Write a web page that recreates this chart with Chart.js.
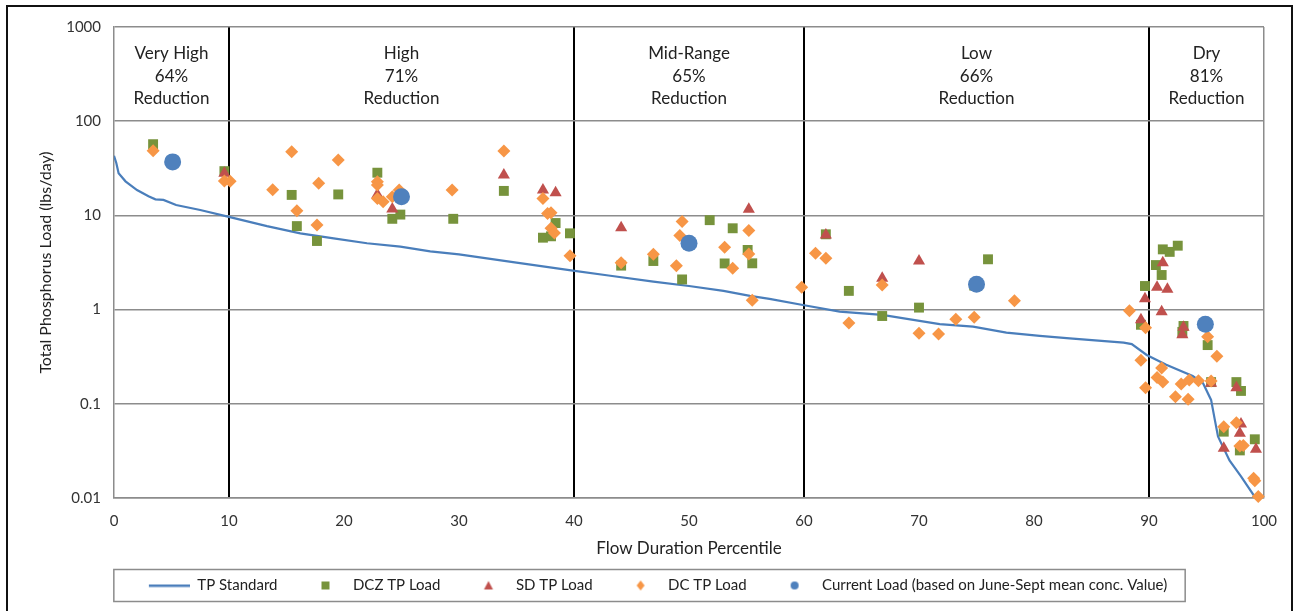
<!DOCTYPE html>
<html>
<head>
<meta charset="utf-8">
<script src="https://cdn.jsdelivr.net/npm/chart.js@4.4.1/dist/chart.umd.min.js"></script>
<style>
  html, body { margin: 0; padding: 0; background: #fff; }
  #wrap { position: relative; width: 1297px; height: 611px; overflow: hidden; }
  #frame { position: absolute; left: 6px; top: 5px; width: 1287px; height: 640px; border: 2px solid #111; box-sizing: border-box; }
  #chart { position: absolute; left: 0; top: 0; }
</style>
</head>
<body>
<div id="wrap">
  <div id="frame"></div>
  <canvas id="chart" width="1297" height="611"></canvas>
</div>
<script>
// TP standard (flow duration curve)
const tpX = [0, 0.2, 0.4, 1, 2, 3, 3.6, 4.3, 5.4, 7.5, 9.9, 13.3, 16.2, 19.1, 22, 24.9, 27.5, 30, 35, 39.9, 43, 46.9, 50, 53, 55.3, 57, 59.9, 63.1, 66.8, 71.8, 74.7, 77.6, 80.5, 83.1, 87.8, 88.5, 89.8, 91.5, 93.8, 94.7, 95.4, 95.7, 96.0, 97, 98, 99.1, 99.6];
const tpY = [43, 36, 28, 23, 18.6, 16, 14.8, 14.6, 12.9, 11.4, 9.7, 7.7, 6.45, 5.7, 5.06, 4.66, 4.15, 3.85, 3.15, 2.59, 2.3, 1.98, 1.78, 1.58, 1.4, 1.3, 1.12, 0.95, 0.88, 0.7, 0.66, 0.57, 0.525, 0.495, 0.446, 0.43, 0.33, 0.26, 0.197, 0.165, 0.11, 0.07, 0.045, 0.025, 0.017, 0.0107, 0.0098];

// DCZ TP Load
const dczX = [3.4, 9.6, 15.45, 15.9, 17.65, 19.5, 22.9, 24.2, 24.9, 29.5, 33.9, 37.3, 38.0, 38.4, 39.65, 44.1, 46.9, 49.4, 51.8, 53.1, 53.8, 55.1, 55.5, 61.9, 63.9, 66.8, 70.0, 74.8, 76.0, 89.3, 89.65, 90.6, 91.1, 91.2, 91.8, 92.5, 93.0, 92.9, 95.1, 95.4, 96.5, 97.6, 98.0, 97.9, 99.2];
const dczY = [57, 29.5, 16.5, 7.7, 5.35, 16.7, 28.4, 9.2, 10.2, 9.2, 18.2, 5.8, 6.0, 8.3, 6.45, 2.93, 3.28, 2.09, 8.9, 3.09, 7.3, 4.3, 3.1, 6.3, 1.58, 0.855, 1.05, 1.8, 3.42, 0.69, 1.78, 2.97, 2.33, 4.36, 4.1, 4.77, 0.67, 0.58, 0.42, 0.17, 0.0506, 0.17, 0.137, 0.032, 0.042];

// SD TP Load
const sdX = [9.6, 22.9, 24.2, 33.9, 37.3, 38.4, 44.1, 55.2, 61.9, 66.8, 70.0, 89.3, 89.65, 90.7, 91.1, 91.2, 91.6, 93.0, 92.9, 95.4, 97.6, 98.0, 97.9, 96.5, 99.3];
const sdY = [28, 16.7, 11.7, 26.8, 18.6, 17.4, 7.4, 11.6, 6.2, 2.15, 3.28, 0.78, 1.30, 1.73, 0.95, 3.15, 1.64, 0.65, 0.54, 0.165, 0.148, 0.061, 0.0487, 0.0337, 0.033];

// DC TP Load
const dcX = [3.4, 9.6, 10.1, 13.8, 15.45, 15.9, 17.8, 17.65, 19.5, 22.9, 22.9, 22.9, 23.4, 24.2, 24.8, 29.4, 33.9, 37.3, 37.7, 38.0, 38.0, 38.3, 39.65, 44.1, 46.9, 48.9, 49.4, 49.2, 53.1, 53.8, 55.2, 55.2, 55.5, 59.8, 61.0, 61.9, 63.9, 66.8, 70.0, 71.7, 73.2, 74.8, 78.3, 88.3, 89.7, 89.3, 89.7, 90.7, 91.1, 91.2, 92.3, 92.8, 93.4, 93.5, 94.3, 95.1, 95.4, 95.9, 96.5, 97.6, 97.9, 98.2, 99.1, 99.2, 99.5];
const dcY = [48.6, 23.2, 23, 18.7, 47.5, 11.2, 21.9, 7.9, 38.7, 22.8, 21, 15.1, 14, 15.8, 18.6, 18.6, 48.3, 15.1, 10.5, 10.7, 7.3, 6.5, 3.73, 3.15, 3.87, 2.92, 8.6, 6.1, 4.58, 2.74, 6.9, 3.9, 1.26, 1.73, 3.96, 3.5, 0.72, 1.82, 0.56, 0.55, 0.79, 0.83, 1.24, 0.97, 0.64, 0.29, 0.148, 0.19, 0.24, 0.17, 0.119, 0.162, 0.112, 0.179, 0.176, 0.515, 0.175, 0.32, 0.057, 0.063, 0.0356, 0.036, 0.0162, 0.0152, 0.0104];

// Current load (June-Sept mean conc.)
const curX = [5.1, 25.0, 50.0, 75.0, 94.9];
const curY = [37, 15.8, 5.06, 1.86, 0.70];

// flow zones
const zoneEdges = [0, 10, 40, 60, 90, 100];
const zoneNames = ["Very High", "High", "Mid-Range", "Low", "Dry"];
const zoneReductions = ["64%", "71%", "65%", "66%", "81%"];

const xTicks = [0, 10, 20, 30, 40, 50, 60, 70, 80, 90, 100];
const yTicks = [0.01, 0.1, 1, 10, 100, 1000];

const FONT = "Lato, 'Liberation Sans', sans-serif";
const gridGray = "#8c8c8c";
const colors = { tp: "#4A7EBB", dcz: "#77933C", sd: "#C0504D", dc: "#F79646", cur: "#4F81BD" };

function pts(xs, ys) {
  return xs.map((x, i) => ({ x: x, y: ys[i] }));
}

// legend markers: wide icons so the marker sits apart from the previous text, like Excel
function legendIcon(draw) {
  const c = document.createElement("canvas");
  c.width = 60;
  c.height = 16;
  draw(c.getContext("2d"));
  return c;
}
const legendIcons = [
  legendIcon((g) => { g.fillStyle = colors.tp; g.fillRect(19, 7, 41, 2.5); }),
  legendIcon((g) => { g.fillStyle = colors.dcz; g.fillRect(36, 4, 8, 8); }),
  legendIcon((g) => { g.fillStyle = colors.sd; g.beginPath(); g.moveTo(40, 3.5); g.lineTo(44.5, 12); g.lineTo(35.5, 12); g.closePath(); g.fill(); }),
  legendIcon((g) => { g.fillStyle = colors.dc; g.beginPath(); g.moveTo(40, 3); g.lineTo(44, 8); g.lineTo(40, 13); g.lineTo(36, 8); g.closePath(); g.fill(); }),
  legendIcon((g) => { g.fillStyle = colors.cur; g.beginPath(); g.arc(40, 8, 4, 0, Math.PI * 2); g.fill(); }),
];

const innerEdges = zoneEdges.slice(1, -1);

const zoneLabels = {
  id: "zoneLabels",
  afterDatasetsDraw(chart) {
    const { ctx, scales } = chart;
    const yc = scales.y.getPixelForValue(Math.sqrt(1000 * 100)) + 2;
    ctx.save();
    ctx.font = "17px " + FONT;
    ctx.fillStyle = "#222";
    ctx.textAlign = "center";
    ctx.textBaseline = "middle";
    zoneNames.forEach((name, i) => {
      const xc = scales.x.getPixelForValue((zoneEdges[i] + zoneEdges[i + 1]) / 2);
      ctx.fillText(name, xc, yc - 22.5);
      ctx.fillText(zoneReductions[i], xc, yc);
      ctx.fillText("Reduction", xc, yc + 22.5);
    });
    ctx.restore();
  },
};

const legendBox = {
  id: "legendBox",
  afterDraw(chart) {
    const hb = chart.legend.legendHitBoxes;
    if (!hb || !hb.length) return;
    const left = Math.min(...hb.map((h) => h.left)) + 19 - 35;
    const right = Math.max(...hb.map((h) => h.left + h.width)) + 18;
    const cy = hb[0].top + hb[0].height / 2;
    const ctx = chart.ctx;
    ctx.save();
    ctx.strokeStyle = gridGray;
    ctx.lineWidth = 1.5;
    ctx.strokeRect(left, cy - 16, right - left, 32);
    ctx.restore();
  },
};

new Chart(document.getElementById("chart"), {
  type: "scatter",
  data: {
    datasets: [
      {
        type: "line",
        label: "TP Standard",
        data: pts(tpX, tpY),
        borderColor: colors.tp,
        backgroundColor: colors.tp,
        borderWidth: 2.2,
        pointRadius: 0,
        tension: 0,
        order: 5,
      },
      {
        label: "DCZ TP Load",
        data: pts(dczX, dczY),
        pointStyle: "rect",
        pointRadius: 7,
        backgroundColor: colors.dcz,
        borderWidth: 0,
        clip: false,
        order: 4,
      },
      {
        label: "SD TP Load",
        data: pts(sdX, sdY),
        pointStyle: "triangle",
        pointRadius: 7,
        backgroundColor: colors.sd,
        borderWidth: 0,
        clip: false,
        order: 3,
      },
      {
        label: "DC TP Load",
        data: pts(dcX, dcY),
        pointStyle: "rectRot",
        pointRadius: 6.5,
        backgroundColor: colors.dc,
        borderWidth: 0,
        clip: false,
        order: 2,
      },
      {
        label: "Current Load (based on June-Sept mean conc. Value)",
        data: pts(curX, curY),
        pointStyle: "circle",
        pointRadius: 8.5,
        backgroundColor: colors.cur,
        borderWidth: 0,
        clip: false,
        order: 1,
      },
    ],
  },
  options: {
    responsive: false,
    animation: false,
    devicePixelRatio: 1,
    events: [],
    layout: { padding: { top: 27, left: 0, right: 0, bottom: 8 } },
    scales: {
      x: {
        type: "linear",
        min: 0,
        max: 100,
        afterBuildTicks(s) { s.ticks = xTicks.map((v) => ({ value: v })); },
        ticks: { color: "#333", font: { family: FONT, size: 15 }, padding: 14 },
        grid: {
          drawTicks: false,
          color: (c) => innerEdges.includes(c.tick.value) ? "#000" : (c.tick.value === 100 ? gridGray : "rgba(0,0,0,0)"),
          lineWidth: (c) => innerEdges.includes(c.tick.value) ? 2 : 1.5,
        },
        border: { color: gridGray, width: 1.5 },
        title: {
          display: true,
          text: "Flow Duration Percentile",
          color: "#222",
          font: { family: FONT, size: 17 },
          padding: { top: 0, bottom: 11 },
        },
        afterFit(s) { s.height = 72; },
      },
      y: {
        type: "logarithmic",
        min: 0.01,
        max: 1000,
        afterBuildTicks(s) { s.ticks = yTicks.map((v) => ({ value: v })); },
        ticks: { color: "#333", font: { family: FONT, size: 15 }, padding: 13, callback: (v) => String(v) },
        grid: { drawTicks: false, color: gridGray, lineWidth: 1.5 },
        border: { color: gridGray, width: 1.5 },
        title: {
          display: true,
          text: "Total Phosphorus Load (lbs/day)",
          color: "#222",
          font: { family: FONT, size: 16 },
          padding: { top: 36, bottom: 0 },
        },
        afterFit(s) { s.width = 114; },
      },
      yRight: {
        type: "linear",
        position: "right",
        display: true,
        grid: { display: false, drawTicks: false },
        ticks: { display: false },
        border: { display: false },
        afterFit(s) { s.width = 33; },
      },
    },
    plugins: {
      tooltip: { enabled: false },
      legend: {
        position: "bottom",
        labels: {
          usePointStyle: true,
          pointStyleWidth: 60,
          padding: 8,
          color: "#222",
          font: { family: FONT, size: 15 },
          generateLabels(chart) {
            return chart.data.datasets.map((ds, i) => ({
              text: ds.label,
              datasetIndex: i,
              hidden: false,
              pointStyle: legendIcons[i],
              fillStyle: ds.backgroundColor,
              strokeStyle: ds.backgroundColor,
              lineWidth: 0,
              fontColor: "#222",
            }));
          },
        },
      },
    },
  },
  plugins: [zoneLabels, legendBox],
});
</script>
</body>
</html>
